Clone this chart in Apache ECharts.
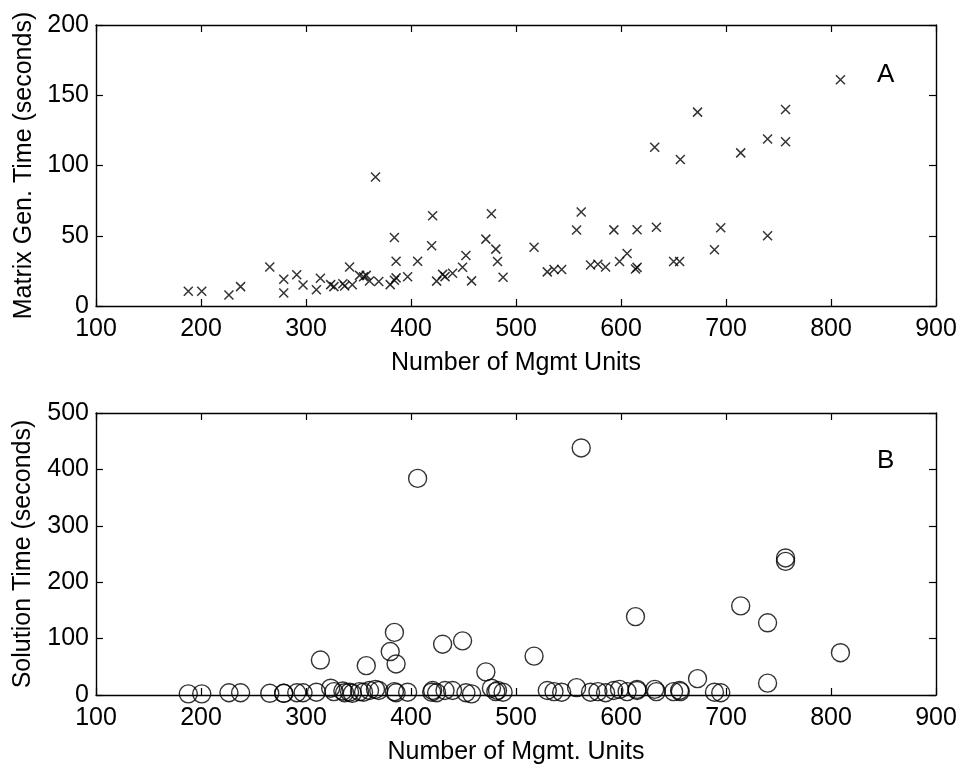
<!DOCTYPE html>
<html>
<head>
<meta charset="utf-8">
<script src="https://cdn.jsdelivr.net/npm/echarts@6/dist/echarts.min.js"></script>
<style>
  html, body { margin: 0; padding: 0; background: #fff; }
  #chart { width: 968px; height: 773px; }
</style>
</head>
<body>
<div id="chart"></div>
<script>
// Problem size (management units) shared by both panels
const mgmtUnits = [
  187.9, 200.7, 226.6, 237.7, 265.5, 278.8, 278.8, 291.2, 297.2, 309.9,
  313.7, 323.5, 326.6, 335.1, 336.8, 341.5, 344.1, 351.0, 354.8, 357.4,
  360.5, 366.2, 369.3, 380.2, 384.2, 385.8, 384.2, 385.8, 396.8, 406.3,
  419.7, 420.6, 424.4, 430.1, 432.4, 439.6, 449.1, 452.3, 457.7, 471.3,
  476.6, 480.8, 482.4, 487.7, 517.2, 529.8, 536.2, 543.5, 557.7, 562.1,
  571.0, 578.0, 585.3, 593.2, 598.6, 605.8, 613.8, 615.3, 615.3, 632.1,
  633.7, 650.1, 655.8, 656.5, 672.9, 689.0, 695.0, 714.0, 739.6, 739.6,
  756.7, 756.7, 809.0
];

// Panel A: matrix generation time (seconds)
const matrixGenTime = [
  10.5, 10.5, 7.8, 13.8, 27.8, 19.1, 9.2, 22.3, 14.9, 11.6,
  19.8, 15.2, 13.8, 15.8, 14.2, 27.7, 15.1, 21.8, 20.8, 21.8,
  17.8, 91.8, 17.5, 15.2, 18.3, 20.0, 48.7, 31.8, 20.8, 31.9,
  42.9, 64.3, 17.7, 22.5, 20.9, 23.3, 27.6, 35.9, 17.9, 47.6,
  65.6, 40.5, 31.7, 20.4, 41.8, 24.3, 26.0, 26.0, 54.1, 66.9,
  29.2, 29.7, 27.8, 54.2, 31.7, 37.4, 26.3, 27.5, 54.3, 113.0,
  56.0, 31.7, 31.7, 104.3, 138.0, 40.0, 55.7, 109.0, 118.8, 50.0,
  139.9, 116.9, 161.0
];

// Panel B: solution time (seconds)
const solutionTime = [
  2, 2, 4, 4, 3, 3, 3, 4, 4, 5,
  62, 12, 6, 7, 4, 5, 3, 6, 5, 52,
  8, 10, 8, 77, 111, 55, 6, 4, 5, 384,
  5, 8, 4, 90, 8, 8, 96, 4, 2, 41,
  12, 6, 8, 5, 69, 8, 6, 5, 13, 438,
  5, 6, 4, 8, 10, 6, 139, 10, 8, 10,
  6, 6, 8, 6, 29, 5, 4, 158, 128, 21,
  243, 237, 75
];

// Axis tick values
const xTicks = [100, 200, 300, 400, 500, 600, 700, 800, 900];
const yTicksA = [0, 50, 100, 150, 200];
const yTicksB = [0, 100, 200, 300, 400, 500];

const FONT = "'Liberation Sans', Arial, Helvetica, sans-serif";
const INK = '#000';
const FS = 25;

const pairs = (xs, ys) => xs.map((x, i) => [x, ys[i]]);
const range = t => ({ min: t[0], max: t[t.length - 1], interval: t[1] - t[0] });

function axisBase(gridIndex, ticks) {
  const r = range(ticks);
  return {
    gridIndex, type: 'value', min: r.min, max: r.max, interval: r.interval,
    splitLine: { show: false },
    axisLine: { show: true, onZero: false, lineStyle: { color: INK, width: 1.4 } },
    axisTick: { show: true, inside: true, length: 7, lineStyle: { color: INK, width: 1.2 } }
  };
}

function xAxisPair(gridIndex, title) {
  const base = axisBase(gridIndex, xTicks);
  return [
    Object.assign({}, base, {
      position: 'bottom',
      name: title, nameLocation: 'middle', nameGap: 45,
      nameTextStyle: { fontFamily: FONT, fontSize: FS, color: INK },
      axisLabel: { fontFamily: FONT, fontSize: FS, color: INK, margin: 11 }
    }),
    Object.assign({}, base, { position: 'top', axisLabel: { show: false } })
  ];
}

function yAxisPair(gridIndex, ticks, title, gap) {
  const base = axisBase(gridIndex, ticks);
  return [
    Object.assign({}, base, {
      position: 'left',
      name: title, nameLocation: 'middle', nameGap: gap, nameRotate: 90,
      nameTextStyle: { fontFamily: FONT, fontSize: FS, color: INK },
      axisLabel: { fontFamily: FONT, fontSize: FS, color: INK, margin: 7 }
    }),
    Object.assign({}, base, { position: 'right', axisLabel: { show: false } })
  ];
}

const chart = echarts.init(document.getElementById('chart'), null, { renderer: 'canvas' });

chart.setOption({
  animation: false,
  backgroundColor: '#fff',
  grid: [
    { left: 96, top: 25, width: 840, height: 281 },
    { left: 96, top: 413, width: 840, height: 282 }
  ],
  xAxis: [].concat(
    xAxisPair(0, 'Number of Mgmt Units'),
    xAxisPair(1, 'Number of Mgmt. Units')
  ),
  yAxis: [].concat(
    yAxisPair(0, yTicksA, 'Matrix Gen. Time (seconds)', 59),
    yAxisPair(1, yTicksB, 'Solution Time (seconds)', 60)
  ),
  series: [
    {
      type: 'scatter', xAxisIndex: 0, yAxisIndex: 0,
      data: pairs(mgmtUnits, matrixGenTime),
      symbol: 'path://M0,0L10,10M10,0L0,10',
      symbolSize: 9,
      itemStyle: { color: 'rgba(0,0,0,0)', borderColor: INK, borderWidth: 1.5 },
      emphasis: { disabled: true }
    },
    {
      type: 'scatter', xAxisIndex: 2, yAxisIndex: 2,
      data: pairs(mgmtUnits, solutionTime),
      symbol: 'circle',
      symbolSize: 18,
      itemStyle: { color: 'rgba(0,0,0,0)', borderColor: INK, borderWidth: 1.4 },
      emphasis: { disabled: true }
    }
  ],
  graphic: [
    { type: 'text', left: 877, top: 62,
      style: { text: 'A', font: '26px ' + FONT, fill: INK } },
    { type: 'text', left: 877, top: 448,
      style: { text: 'B', font: '26px ' + FONT, fill: INK } }
  ]
});
</script>
</body>
</html>
